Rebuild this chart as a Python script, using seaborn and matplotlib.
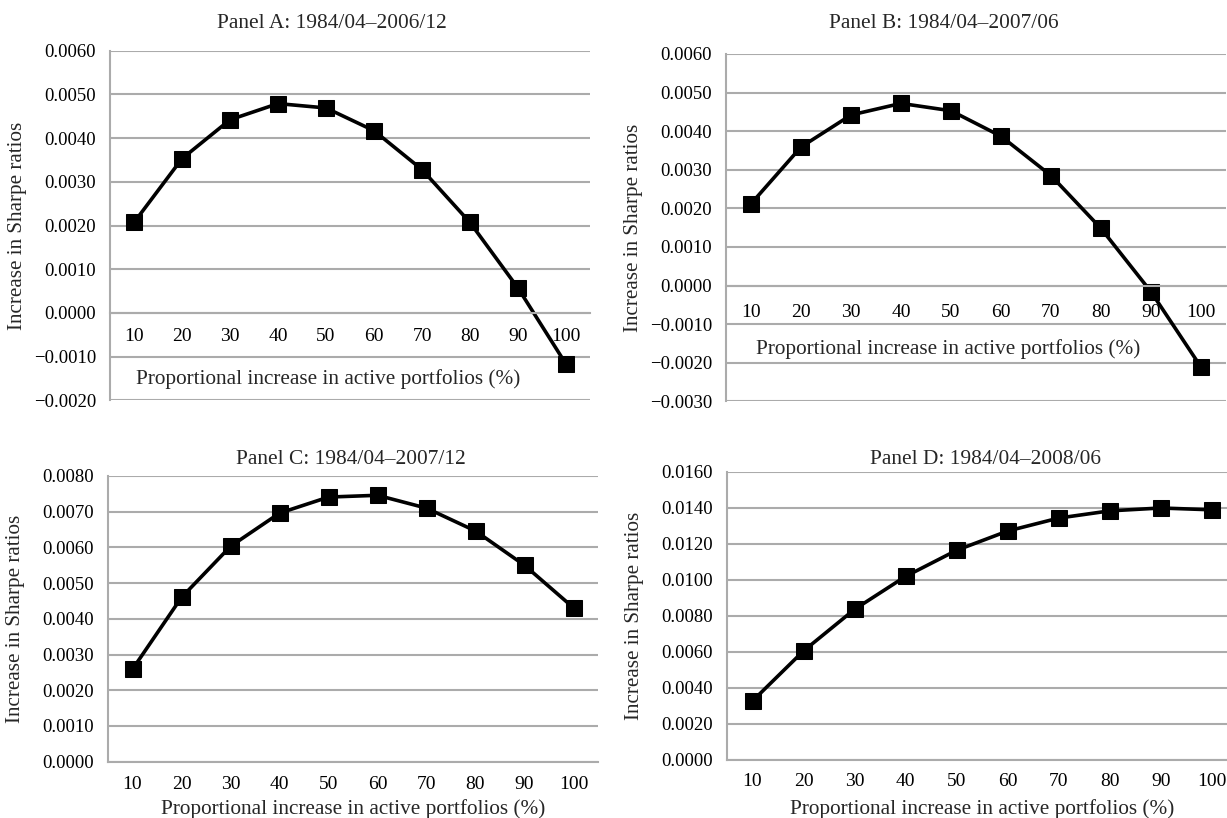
import numpy as np
import matplotlib
matplotlib.use("Agg")
import matplotlib.pyplot as plt
from matplotlib.ticker import FuncFormatter, FixedLocator
import seaborn as sns

categories = ["10", "20", "30", "40", "50", "60", "70", "80", "90", "100"]
panel_a = [0.00207, 0.00353, 0.00442, 0.00479, 0.00469, 0.00417, 0.00328, 0.00207, 0.00057, -0.00117]
panel_b = [0.00212, 0.00359, 0.00442, 0.00472, 0.00453, 0.00387, 0.00285, 0.00148, -0.00016, -0.00211]
panel_c = [0.00259, 0.00460, 0.00603, 0.00696, 0.00741, 0.00746, 0.00710, 0.00646, 0.00550, 0.00431]
panel_d = [0.00328, 0.00606, 0.00837, 0.01020, 0.01165, 0.01272, 0.01344, 0.01384, 0.01400, 0.01390]
titles = ["Panel A: 1984/04\u20132006/12", "Panel B: 1984/04\u20132007/06",
          "Panel C: 1984/04\u20132007/12", "Panel D: 1984/04\u20132008/06"]
xlabel = "Proportional increase in active portfolios (%)"
ylabel = "Increase in Sharpe ratios"

sns.set_theme(style="white")
plt.rcParams["font.family"] = ["Liberation Serif", "DejaVu Serif"]

W, H = 1227, 818
fig = plt.figure(figsize=(W / 100, H / 100), dpi=100)

def rect(l, r, t, b):
    return [l / W, 1 - b / H, (r - l) / W, (b - t) / H]

panels = [
    dict(data=panel_a, rect=rect(110, 590, 50.7, 400.4), ylim=(-0.002, 0.006), step=0.001,
         xlim=(-0.5, 9.5), pad=6, xl=(0.454, 0.089), title=(332, 23), ylx=-83 / 480),
    dict(data=panel_b, rect=rect(726, 1226, 54, 401.4), ylim=(-0.003, 0.006), step=0.001,
         xlim=(-0.5, 9.5), pad=8, xl=(0.444, 0.178), title=(944, 23), ylx=-83 / 500),
    dict(data=panel_c, rect=rect(108, 598, 476, 761.7), ylim=(0.0, 0.008), step=0.001,
         xlim=(-0.5, 9.5), pad=5, xl=(0.5, -0.132), title=(351, 459), ylx=-83 / 490),
    dict(data=panel_d, rect=rect(727, 1227, 472, 760), ylim=(0.0, 0.016), step=0.002,
         xlim=(-0.5, 9.3), pad=4, xl=(0.51, -0.137), title=(985, 459), ylx=-83 / 500),
]

grid_col = "#ababab"
fmt = FuncFormatter(lambda v, p: f"{v:.4f}".replace("-", "\u2212"))

for i, p in enumerate(panels):
    ax = fig.add_axes(p["rect"])
    x = np.arange(len(categories))
    sns.lineplot(x=x, y=p["data"], ax=ax, color="black", linewidth=2.6,
                 marker="s", markersize=11, markeredgecolor="black",
                 markerfacecolor="black", zorder=2)
    ax.set_xlim(*p["xlim"])
    ax.set_ylim(*p["ylim"])
    lo, hi = p["ylim"]
    n = int(round((hi - lo) / p["step"]))
    ax.set_yticks([lo + k * p["step"] for k in range(n + 1)])
    ax.yaxis.set_major_formatter(fmt)
    ax.set_xticks(x)
    ax.set_xticklabels(categories)
    ax.xaxis.set_minor_locator(FixedLocator(np.arange(-0.5, 10.0, 1.0)))
    ax.tick_params(axis="x", which="major", length=0, pad=p["pad"] + 5, labelsize=14,
                   colors="black")
    ax.tick_params(axis="x", which="minor", length=5, width=1.3, color=grid_col,
                   direction="out")
    ax.tick_params(axis="y", which="major", length=6, width=1.3, color=grid_col,
                   direction="out", pad=4, labelsize=13.5, labelcolor="black")
    ax.yaxis.grid(True, color=grid_col, linewidth=1.5)
    ax.xaxis.grid(False)
    ax.set_axisbelow(True)
    ax.xaxis.set_zorder(5)
    for lab in ax.get_xticklabels():
        lab.set_bbox(dict(facecolor="white", edgecolor="none", pad=1.0))
    for s in ["top", "right"]:
        ax.spines[s].set_visible(False)
    ax.spines["left"].set_color(grid_col)
    ax.spines["left"].set_linewidth(1.5)
    ax.spines["bottom"].set_color(grid_col)
    ax.spines["bottom"].set_linewidth(1.5)
    ax.spines["bottom"].set_position(("data", 0))
    ax.set_xlabel(xlabel, fontsize=15.3)
    ax.xaxis.set_label_coords(*p["xl"])
    ax.set_ylabel(ylabel, fontsize=15.2)
    ax.yaxis.set_label_coords(p["ylx"], 0.5)
    ax.set_facecolor("white")
    fig.text(p["title"][0] / W, 1 - p["title"][1] / H, titles[i], ha="center",
             va="center", fontsize=15.4)

fig.savefig("out.png", dpi=100, facecolor="white")
